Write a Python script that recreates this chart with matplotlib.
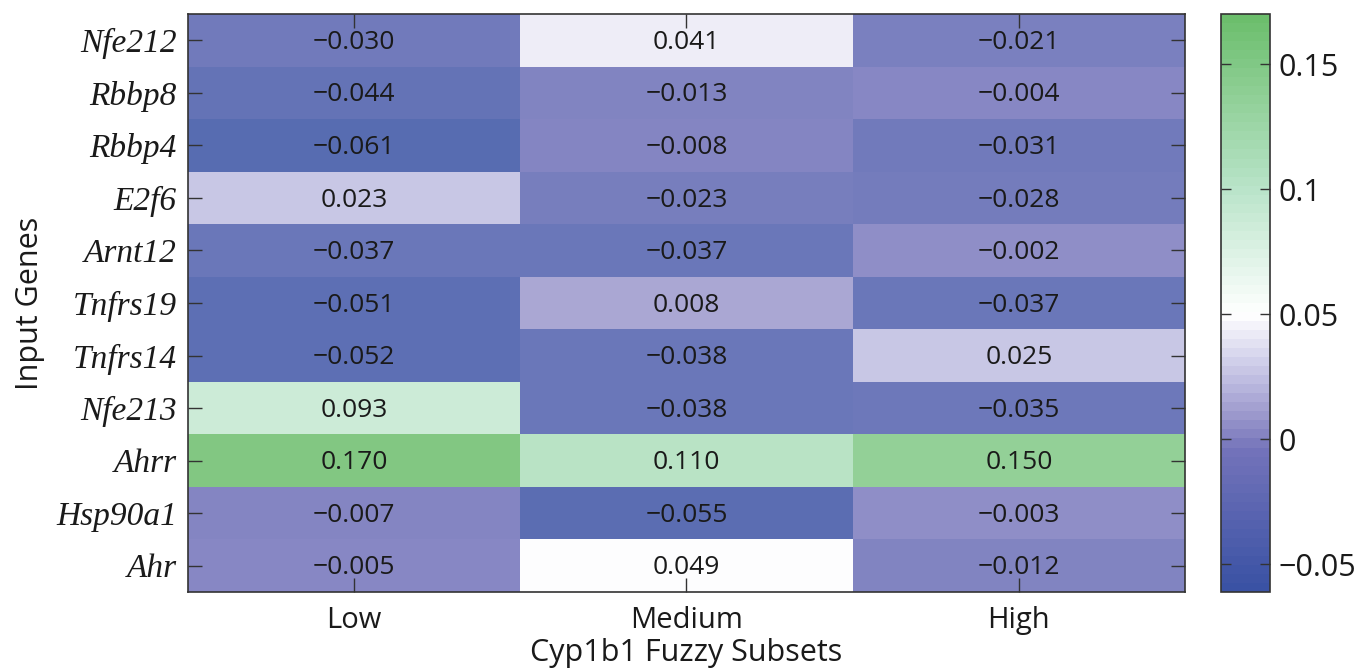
import numpy as np
import matplotlib
matplotlib.use("Agg")
import matplotlib.pyplot as plt
from matplotlib.colors import LinearSegmentedColormap, Normalize
from matplotlib.cm import ScalarMappable

genes = ["Nfe212", "Rbbp8", "Rbbp4", "E2f6", "Arnt12", "Tnfrs19",
         "Tnfrs14", "Nfe213", "Ahrr", "Hsp90a1", "Ahr"]
subsets = ["Low", "Medium", "High"]

low = [-0.030, -0.044, -0.061, 0.023, -0.037, -0.051, -0.052, 0.093, 0.170, -0.007, -0.005]
medium = [0.041, -0.013, -0.008, -0.023, -0.037, 0.008, -0.038, -0.038, 0.110, -0.055, 0.049]
high = [-0.021, -0.004, -0.031, -0.028, -0.002, -0.037, 0.025, -0.035, 0.150, -0.003, -0.012]

values = np.column_stack([low, medium, high])

vmin, vmax = -0.061, 0.170
norm = Normalize(vmin=vmin, vmax=vmax)

def pos(v):
    return (v - vmin) / (vmax - vmin)

def rgb(r, g, b):
    return (r / 255, g / 255, b / 255)

cmap = LinearSegmentedColormap.from_list(
    "bluewhitegreen",
    [(0.0, rgb(58, 82, 164)),
     (pos(-0.005), rgb(115, 115, 186)),
     (pos(0.008), rgb(153, 150, 203)),
     (pos(0.023), rgb(190, 188, 225)),
     (pos(0.050), rgb(255, 255, 255)),
     (pos(0.1), rgb(186, 228, 202)),
     (1.0, rgb(108, 190, 108))],
    N=64,
)

sans = ["Open Sans", "DejaVu Sans"]
plt.rcParams["font.family"] = sans

fig = plt.figure(figsize=(13.58, 6.70), dpi=100)
ax = fig.add_axes([0.1384, 0.1164, 0.7342, 0.8627])
cax = fig.add_axes([0.8990, 0.1164, 0.0361, 0.8627])

nrows, ncols = values.shape
ax.pcolormesh(np.arange(ncols + 1) - 0.5, np.arange(nrows + 1) - 0.5, values,
              cmap=cmap, norm=norm, alpha=0.85, edgecolors="none")
ax.set_xlim(-0.5, ncols - 0.5)
ax.set_ylim(nrows - 0.5, -0.5)

for i in range(nrows):
    for j in range(ncols):
        ax.text(j, i + 0.04, f"{values[i, j]:.3f}".replace("-", "\u2212"),
                ha="center", va="center", fontsize=19, color="#1a1a1a")

ax.set_xticks(range(ncols))
ax.set_xticklabels(subsets, fontsize=21)
ax.set_yticks(range(nrows))
ax.set_yticklabels(genes, fontsize=24, family=["Liberation Serif"], style="italic")
ax.tick_params(axis="both", direction="in", length=10, width=1, color="#333333",
               top=True, right=True, labelcolor="#1a1a1a")
ax.tick_params(axis="x", pad=10)
ax.tick_params(axis="y", pad=8)
ax.set_xlabel("Cyp1b1 Fuzzy Subsets", fontsize=22, color="#1a1a1a", labelpad=2)
ax.set_ylabel("Input Genes", fontsize=22, color="#1a1a1a", labelpad=8)
for s in ax.spines.values():
    s.set_color("#333333")
    s.set_linewidth(1.2)

cb = fig.colorbar(ScalarMappable(norm=norm, cmap=cmap), cax=cax)
cb.set_ticks([-0.05, 0, 0.05, 0.1, 0.15])
cb.set_ticklabels(["\u22120.05", "0", "0.05", "0.1", "0.15"])
cb.ax.tick_params(direction="in", length=7, width=1, color="#333333",
                  left=True, right=True, labelsize=22, labelcolor="#1a1a1a", pad=6)
cb.outline.set_edgecolor("#333333")
cb.outline.set_linewidth(1.2)

fig.savefig("out.png", dpi=100)
